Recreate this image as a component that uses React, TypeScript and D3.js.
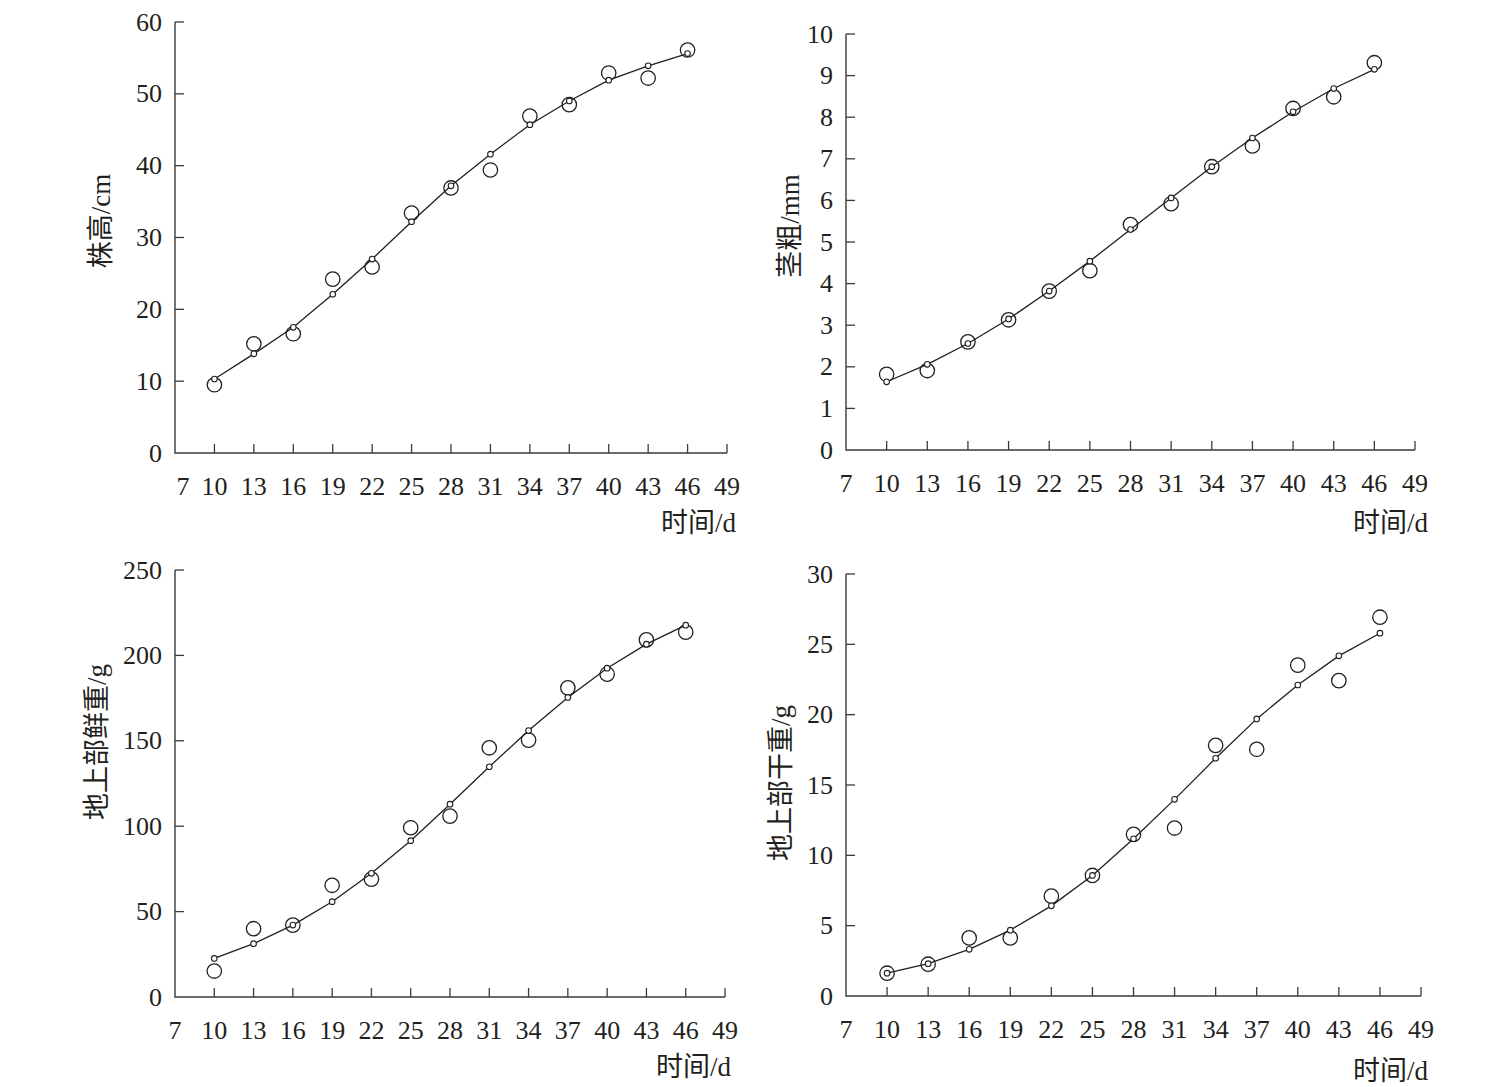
import { useEffect, useRef } from 'react'
import * as d3 from 'd3'

// sampling days (d)
const days = [10, 13, 16, 19, 22, 25, 28, 31, 34, 37, 40, 43, 46]
const xTicks = [10, 13, 16, 19, 22, 25, 28, 31, 34, 37, 40, 43, 46, 49]
const xLabels = [7, 10, 13, 16, 19, 22, 25, 28, 31, 34, 37, 40, 43, 46, 49]

// plant height, cm
const heightObs = [9.5, 15.2, 16.6, 24.2, 25.9, 33.4, 36.9, 39.4, 46.9, 48.5, 52.9, 52.2, 56.1]
const heightSim = [10.3, 13.8, 17.5, 22.1, 27.0, 32.2, 37.2, 41.6, 45.7, 49.0, 51.9, 53.9, 55.6]
const heightTicks = [0, 10, 20, 30, 40, 50, 60]

// stem diameter, mm
const stemObs = [1.82, 1.91, 2.6, 3.13, 3.82, 4.31, 5.42, 5.92, 6.81, 7.31, 8.21, 8.49, 9.31]
const stemSim = [1.64, 2.06, 2.56, 3.15, 3.82, 4.54, 5.3, 6.06, 6.81, 7.5, 8.13, 8.69, 9.15]
const stemTicks = [0, 1, 2, 3, 4, 5, 6, 7, 8, 9, 10]

// shoot fresh weight, g
const freshObs = [15.2, 40.0, 42.1, 65.4, 69.0, 99.1, 105.9, 145.9, 150.4, 181.0, 189.0, 209.1, 213.6]
const freshSim = [22.6, 31.2, 42.1, 55.8, 72.4, 91.5, 112.9, 134.8, 156.0, 175.4, 192.5, 206.6, 217.7]
const freshTicks = [0, 50, 100, 150, 200, 250]

// shoot dry weight, g
const dryObs = [1.62, 2.26, 4.13, 4.13, 7.1, 8.57, 11.49, 11.94, 17.82, 17.54, 23.52, 22.42, 26.93]
const drySim = [1.62, 2.3, 3.32, 4.68, 6.41, 8.57, 11.18, 13.98, 16.9, 19.7, 22.11, 24.18, 25.79]
const dryTicks = [0, 5, 10, 15, 20, 25, 30]

const panels = [
  { obs: heightObs, sim: heightSim, yTicks: heightTicks, yTitle: '株高/cm',
    left: 175, right: 727, top: 22, bottom: 453, titleX: 101, titleY: 221, xTitleX: 736, xTitleY: 523, sevenDx: 8 },
  { obs: stemObs, sim: stemSim, yTicks: stemTicks, yTitle: '茎粗/mm',
    left: 846, right: 1415, top: 34, bottom: 450, titleX: 790, titleY: 226, xTitleX: 1428, xTitleY: 523, sevenDx: 0 },
  { obs: freshObs, sim: freshSim, yTicks: freshTicks, yTitle: '地上部鲜重/g',
    left: 175, right: 725, top: 570, bottom: 997, titleX: 97, titleY: 742, xTitleX: 731, xTitleY: 1067, sevenDx: 0 },
  { obs: dryObs, sim: drySim, yTicks: dryTicks, yTitle: '地上部干重/g',
    left: 846, right: 1421, top: 574, bottom: 996, titleX: 781, titleY: 783, xTitleX: 1428, xTitleY: 1071, sevenDx: 0 },
]

const TEXT = '#231f20'
const AXIS = '#3a3a3a'
const NUM_FONT = "'Liberation Serif', 'Times New Roman', serif"
const CJK_FONT = "'Liberation Serif', 'Noto Sans CJK SC', serif"

export default function App() {
  const svgRef = useRef<SVGSVGElement>(null)

  useEffect(() => {
    if (!svgRef.current) return
    const svg = d3.select(svgRef.current)
    svg.selectAll('*').remove()

    panels.forEach((p) => {
      const x = d3.scaleLinear().domain([7, 49]).range([p.left, p.right])
      const yMax = p.yTicks[p.yTicks.length - 1]
      const y = d3.scaleLinear().domain([0, yMax]).range([p.bottom, p.top])
      const g = svg.append('g')

      // axes
      g.append('path')
        .attr('d', `M${x(49)},${y(0)}H${x(7)}V${y(yMax)}`)
        .attr('fill', 'none')
        .attr('stroke', AXIS)
        .attr('stroke-width', 1.4)

      g.selectAll('.xt')
        .data(xTicks)
        .enter()
        .append('line')
        .attr('x1', (d) => x(d))
        .attr('x2', (d) => x(d))
        .attr('y1', y(0))
        .attr('y2', y(0) - 9)
        .attr('stroke', AXIS)
        .attr('stroke-width', 1.3)

      g.selectAll('.yt')
        .data(p.yTicks.filter((d) => d > 0))
        .enter()
        .append('line')
        .attr('x1', x(7))
        .attr('x2', x(7) + 9)
        .attr('y1', (d) => y(d))
        .attr('y2', (d) => y(d))
        .attr('stroke', AXIS)
        .attr('stroke-width', 1.3)

      g.selectAll('.xl')
        .data(xLabels)
        .enter()
        .append('text')
        .attr('x', (d) => x(d) + (d === 7 ? p.sevenDx : 0))
        .attr('y', y(0) + 33)
        .attr('text-anchor', 'middle')
        .attr('dominant-baseline', 'central')
        .attr('font-family', NUM_FONT)
        .attr('font-size', 26)
        .attr('fill', TEXT)
        .text((d) => d)

      g.selectAll('.yl')
        .data(p.yTicks)
        .enter()
        .append('text')
        .attr('x', x(7) - 13)
        .attr('y', (d) => y(d))
        .attr('text-anchor', 'end')
        .attr('dominant-baseline', 'central')
        .attr('font-family', NUM_FONT)
        .attr('font-size', 26)
        .attr('fill', TEXT)
        .text((d) => d)

      // titles
      g.append('text')
        .attr('transform', `translate(${p.titleX},${p.titleY}) rotate(-90)`)
        .attr('text-anchor', 'middle')
        .attr('dominant-baseline', 'central')
        .attr('font-family', CJK_FONT)
        .attr('font-size', 27)
        .attr('fill', TEXT)
        .text(p.yTitle)

      g.append('text')
        .attr('x', p.xTitleX)
        .attr('y', p.xTitleY)
        .attr('text-anchor', 'end')
        .attr('dominant-baseline', 'central')
        .attr('font-family', CJK_FONT)
        .attr('font-size', 27)
        .attr('fill', TEXT)
        .text('时间/d')

      // simulated line
      const line = d3
        .line<number>()
        .x((_, i) => x(days[i]))
        .y((d) => y(d))
      g.append('path')
        .attr('d', line(p.sim) as string)
        .attr('fill', 'none')
        .attr('stroke', TEXT)
        .attr('stroke-width', 1.3)

      // observed (large open circles)
      g.selectAll('.obs')
        .data(p.obs)
        .enter()
        .append('circle')
        .attr('cx', (_, i) => x(days[i]))
        .attr('cy', (d) => y(d))
        .attr('r', 7.2)
        .attr('fill', 'none')
        .attr('stroke', TEXT)
        .attr('stroke-width', 1.3)

      // simulated (small open circles)
      g.selectAll('.sim')
        .data(p.sim)
        .enter()
        .append('circle')
        .attr('cx', (_, i) => x(days[i]))
        .attr('cy', (d) => y(d))
        .attr('r', 2.8)
        .attr('fill', '#fff')
        .attr('stroke', TEXT)
        .attr('stroke-width', 1.1)
    })
  }, [])

  return (
    <svg
      ref={svgRef}
      width={1495}
      height={1087}
      style={{ position: 'absolute', left: 0, top: 0, background: '#fff' }}
    ></svg>
  )
}
